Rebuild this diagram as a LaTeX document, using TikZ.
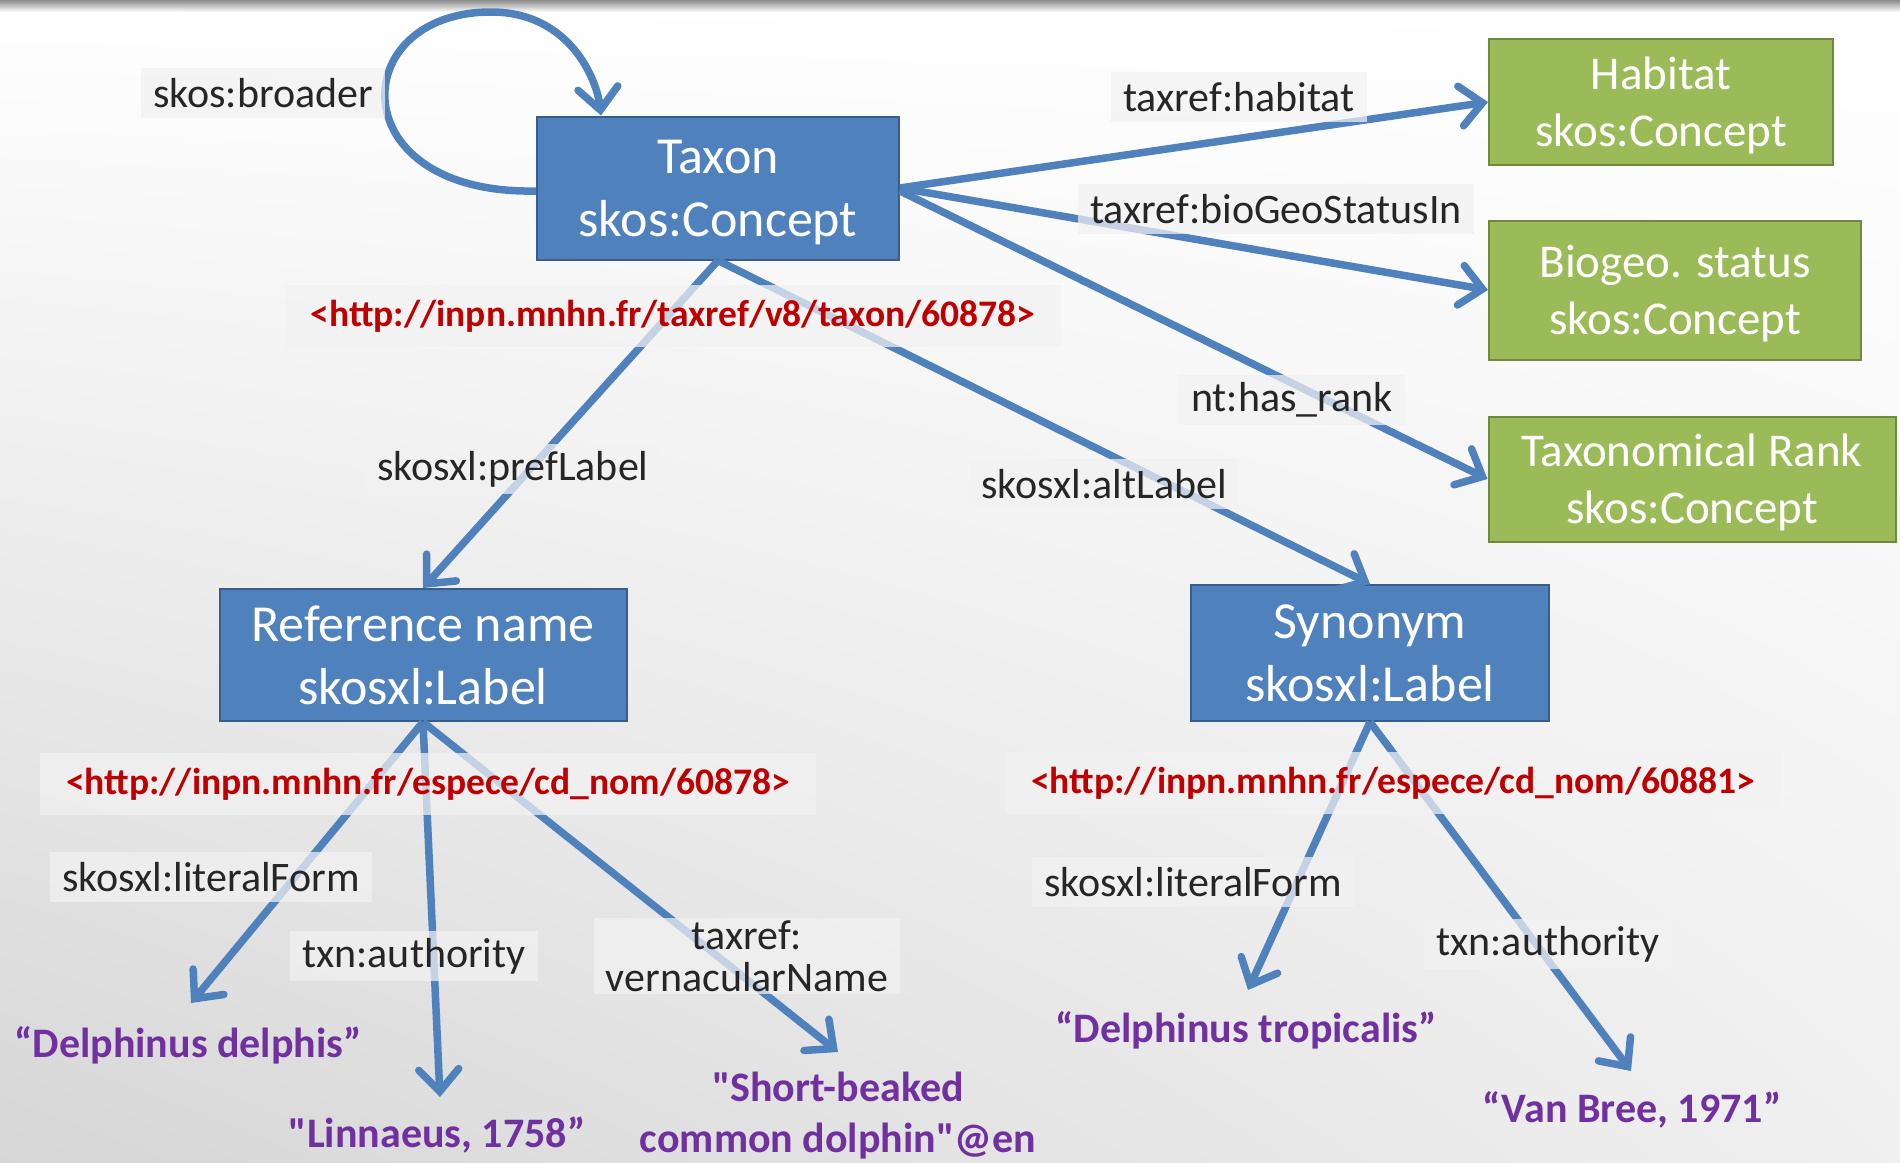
\documentclass[tikz,border=0pt]{standalone}
\usepackage{fontspec}
\setmainfont{Carlito}[Ligatures=TeXOff]
\usetikzlibrary{arrows.meta,calc,shadings}
\definecolor{boxblue}{HTML}{4F81BD}
\definecolor{boxblueborder}{HTML}{385D8A}
\definecolor{boxgreen}{HTML}{9BBB59}
\definecolor{boxgreenborder}{HTML}{71893F}
\definecolor{urlred}{HTML}{C00000}
\definecolor{litpurple}{HTML}{7030A0}
\definecolor{labelbg}{HTML}{F2F2F2}
\definecolor{labeltext}{HTML}{262626}
\newcommand\nodepth[1]{\raisebox{0pt}[\height][0pt]{#1}}
\begin{document}
\begin{tikzpicture}[x=1pt,y=-1pt,
 bluebox/.style={draw=boxblueborder, line width=2pt, fill=boxblue, text=white, align=center, font=\fontsize{52}{63}\selectfont, inner sep=0pt},
 greenbox/.style={draw=boxgreenborder, line width=2pt, fill=boxgreen, text=white, align=center, font=\fontsize{47}{57}\selectfont, inner sep=0pt},
 prop/.style={fill=labelbg, fill opacity=0.72, text opacity=1, text=labeltext, align=center, font=\fontsize{42}{42}\selectfont, inner xsep=12pt, inner ysep=2pt, minimum height=50pt},
 uri/.style={fill=labelbg, fill opacity=0.72, text opacity=1, text=urlred, font=\bfseries\fontsize{37.5}{40}\selectfont, inner xsep=26pt, minimum height=62pt},
 literal/.style={text=litpurple, font=\bfseries\fontsize{42}{51}\selectfont, align=center, inner sep=0pt},
 rel/.style={draw=boxblue, line width=7.5pt, -{Straight Barb[length=22pt,width=40pt,line cap=round,line join=miter]}},
]
\useasboundingbox (0,0) rectangle (1900,1162);
% background
\shade[upper left=white, upper right=white, lower left=black!16, lower right=black!6] (0,0) rectangle (1900,1162);
\shade[top color=black!45, bottom color=white] (0,0) rectangle (1900,12);

% concept / label boxes
\node[bluebox, minimum width=362pt, minimum height=143pt] (taxon) at (718,188) {Taxon\\\nodepth{skos:Concept}};
\node[greenbox, minimum width=344pt, minimum height=126pt] (habitat) at (1661,102) {Habitat\\\nodepth{skos:Concept}};
\node[greenbox, minimum width=372pt, minimum height=139pt] (biogeo) at (1675,290) {Biogeo. status\\\nodepth{skos:Concept}};
\node[greenbox, minimum width=407pt, minimum height=125pt] (rank) at (1692,479) {Taxonomical Rank\\\nodepth{skos:Concept}};
\node[bluebox, minimum width=407pt, minimum height=132pt] (refname) at (423,655) {Reference name\\skosxl:Label};
\node[bluebox, minimum width=358pt, minimum height=136pt] (synonym) at (1370,653) {Synonym\\skosxl:Label};

% literals
\node[literal] (dd) at (188,1045) {“Delphinus delphis”};
\node[literal] (linn) at (437,1135) {"Linnaeus, 1758”};
\node[literal] (short) at (838,1116) {"Short-beaked\\common dolphin"@en};
\node[literal] (trop) at (1246,1030) {“Delphinus tropicalis”};
\node[literal] (vanbree) at (1632,1110) {“Van Bree, 1971”};

% arrow tips near literals
\coordinate (ddtip) at (191,1003);
\coordinate (linntip) at (440,1097);
\coordinate (shorttip) at (838,1052);
\coordinate (troptip) at (1248,990);
\coordinate (vanbreetip) at (1631,1071);

% connectors
\draw[rel] ($(taxon.west)+(0,3)$) .. controls (340,195) and (345,12) .. (491,12) .. controls (570,12) and (597,80) .. ($(taxon.north west)+(65,0)$);
\draw[rel] (taxon.east) -- (habitat.west);
\draw[rel] (taxon.east) -- (biogeo.west);
\draw[rel] ($(taxon.east)+(0,3)$) -- (rank.west);
\draw[rel] (taxon.south) -- (refname.north);
\draw[rel] (taxon.south) -- (synonym.north);
\draw[rel] (refname.south) -- (ddtip);
\draw[rel] (refname.south) -- (linntip);
\draw[rel] (refname.south) -- (shorttip);
\draw[rel] (synonym.south) -- (troptip);
\draw[rel] (synonym.south) -- (vanbreetip);

% property labels
\node[prop] (lbroader) at (263,93) {skos:broader};
\node[prop] (lhabitat) at (1239,97) {taxref:habitat};
\node[prop] (lbiogeo) at (1276,209) {taxref:bioGeoStatusIn};
\node[prop] (lrank) at (1292,400) {nt:has\_rank};
\node[prop] (lalt) at (1104,484) {skosxl:altLabel};
\node[prop] (lpref) at (513,469) {skosxl:prefLabel};
\node[prop] (llitL) at (211,877) {skosxl:literalForm};
\node[prop] (lauthL) at (414,956) {txn:authority};
\node[prop] (lvern) at (747,956) {taxref:\\vernacularName};
\node[prop] (llitR) at (1193,882) {skosxl:literalForm};
\node[prop] (lauthR) at (1548,944) {txn:authority};

% URIs
\node[uri] (uri1) at (673,316) {<http://inpn.mnhn.fr/taxref/v8/taxon/60878>};
\node[uri] (uri2) at (428,784) {<http://inpn.mnhn.fr/espece/cd\_nom/60878>};
\node[uri] (uri3) at (1393,783) {<http://inpn.mnhn.fr/espece/cd\_nom/60881>};
\end{tikzpicture}
\end{document}
